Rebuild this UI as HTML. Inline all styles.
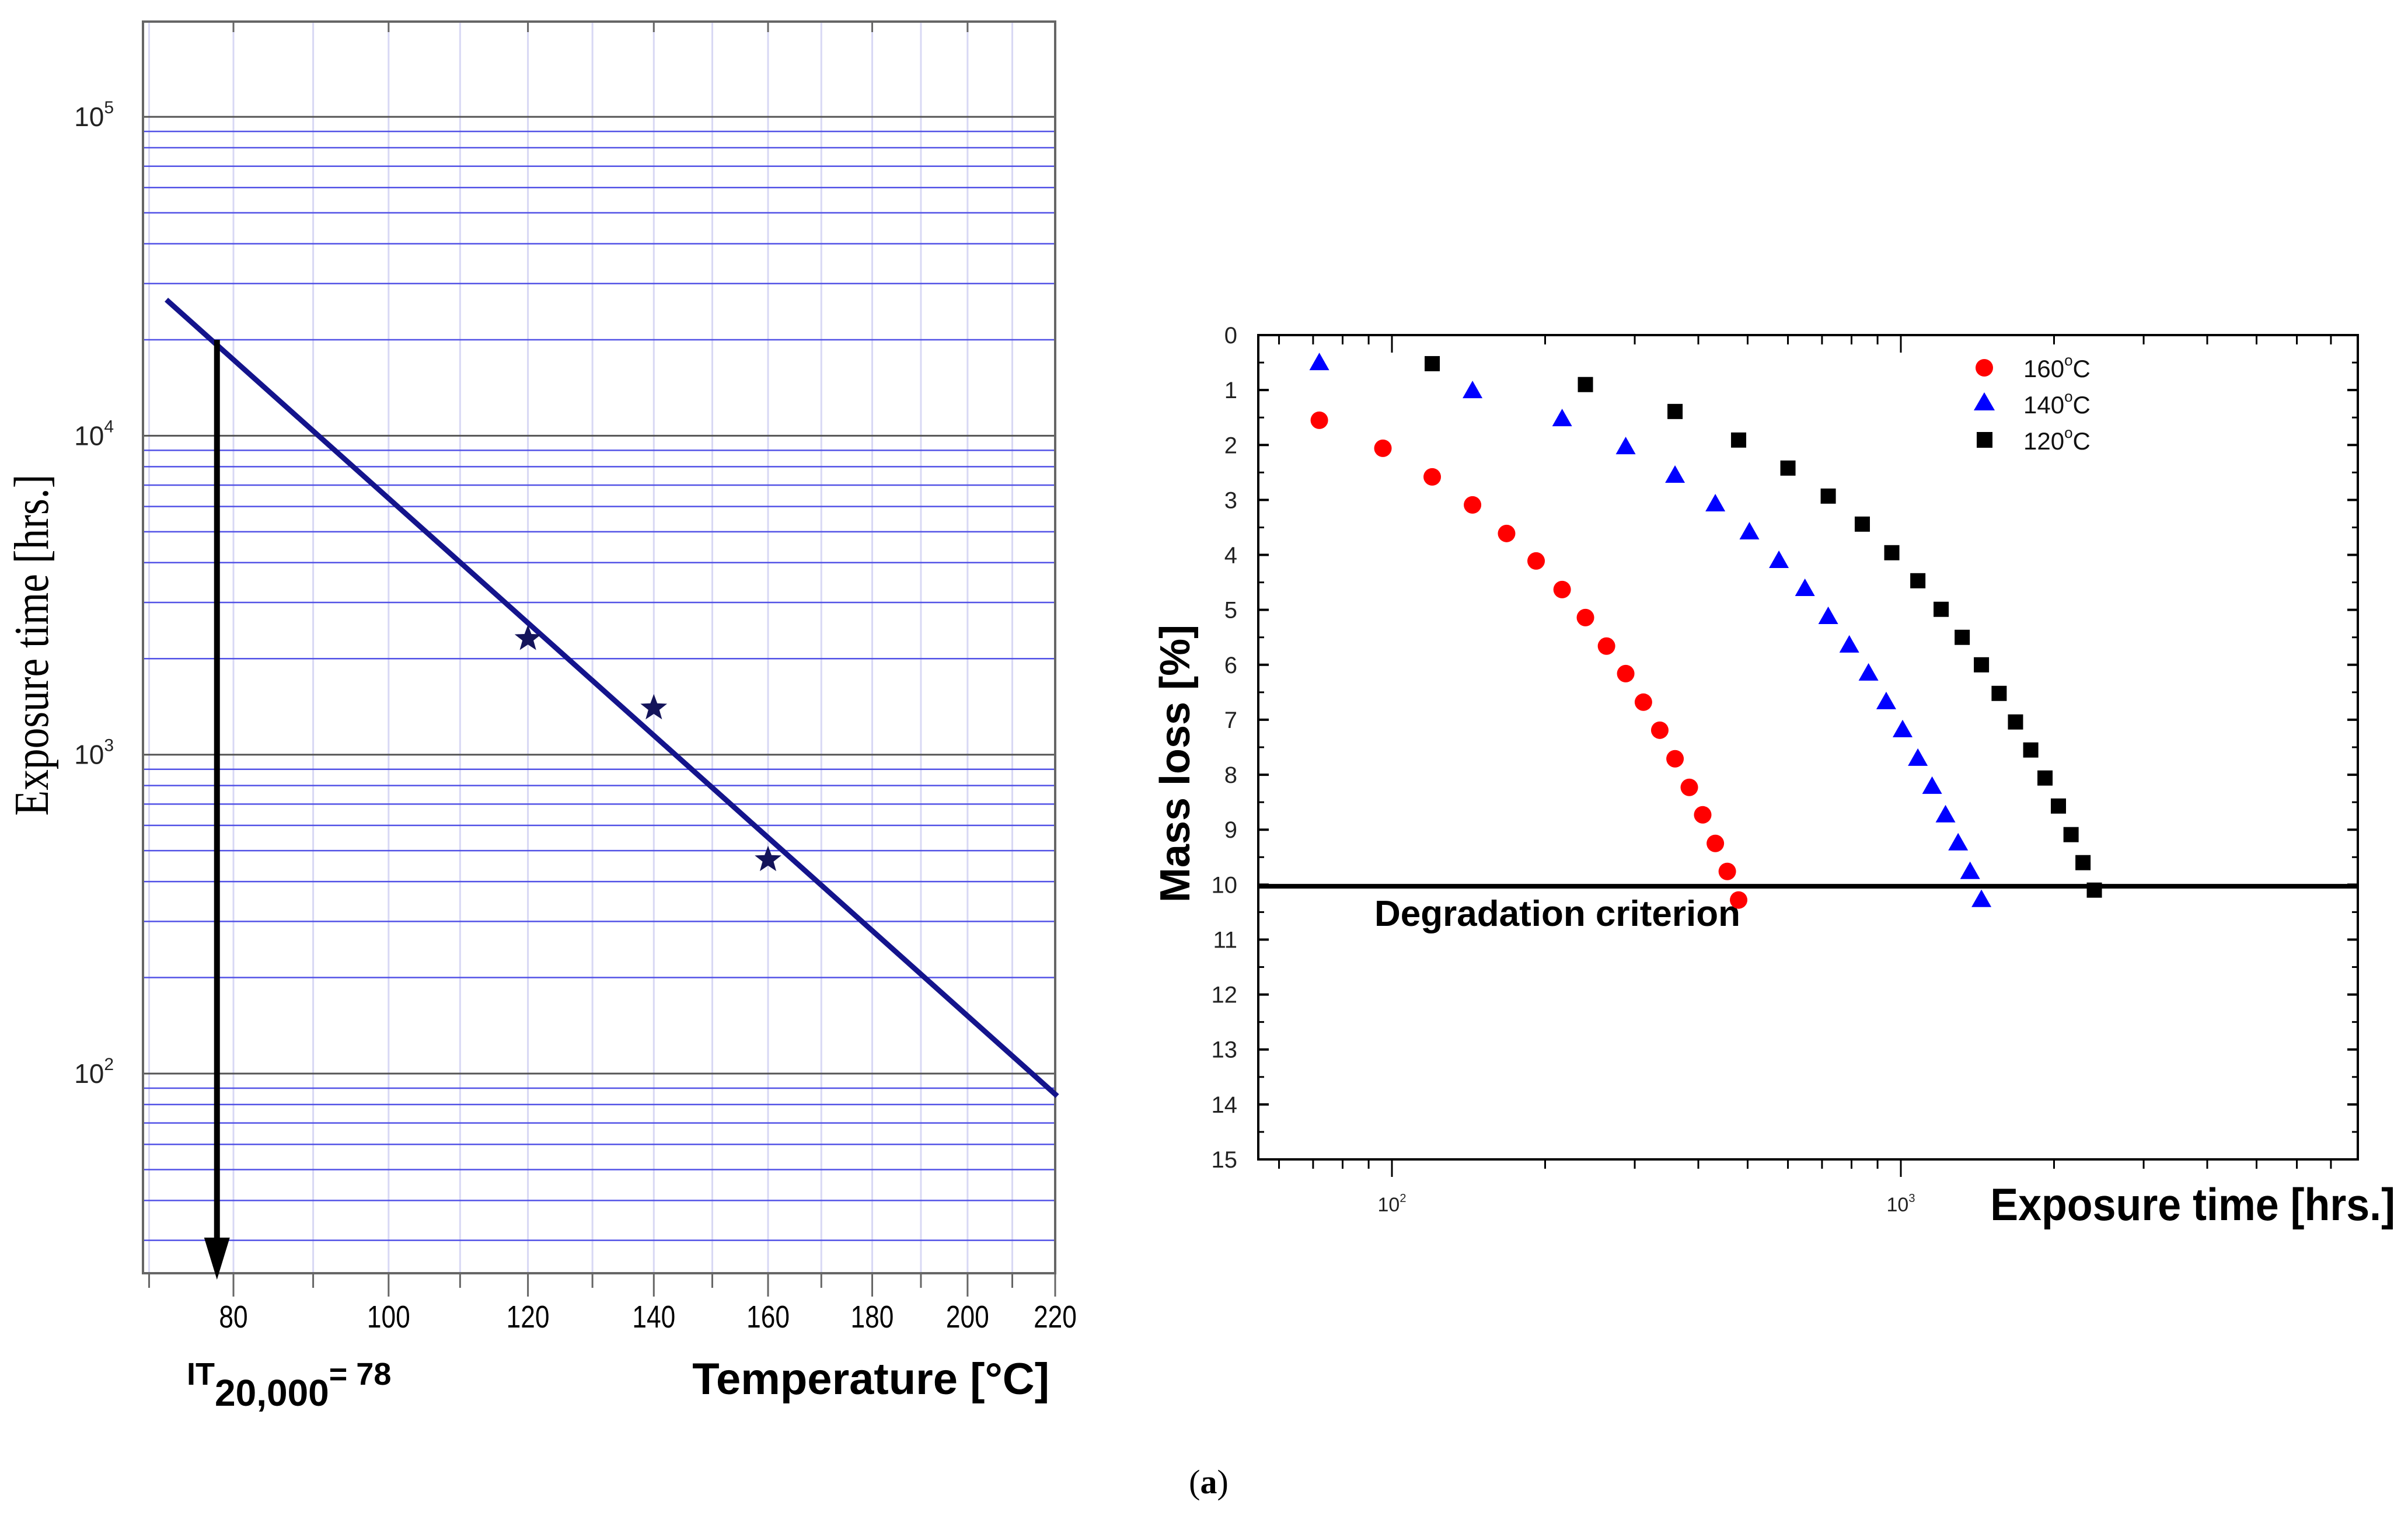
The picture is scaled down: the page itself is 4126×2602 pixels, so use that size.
<!DOCTYPE html>
<html><head><meta charset="utf-8"><style>
html,body{margin:0;padding:0;background:#fff;}
svg{display:block;font-family:"Liberation Sans",sans-serif;}
</style></head><body>
<svg id="fig" width="4126" height="2602" viewBox="0 0 4126 2602" xmlns="http://www.w3.org/2000/svg">
<g id="left"></g>
<g id="right"></g>
<text x="2071" y="2558" font-family="Liberation Serif,serif" font-size="58" text-anchor="middle">(<tspan font-weight="bold">a</tspan>)</text>
</svg>
<script>
// ---------- Left chart data ----------
const lxTicks = [80,100,120,140,160,180,200,220];
const lxMinor = [70,90,110,130,150,170,190,210];
const lyDecades = [2,3,4,5];
const starTemps = [120,140,160];
const starTimes = [2310,1400,468];
const fitTemps = [72,220.5];
const fitTimes = [26700,85];
const itTemp = [78];
const itTime = [20000];

// ---------- Right chart data ----------
const t160 = [72,96,120,144,168,192,216,240,264,288,312,336,360,384,408,432,456,480];
const m160 = [1.55,2.06,2.58,3.09,3.61,4.11,4.63,5.14,5.66,6.16,6.68,7.19,7.71,8.23,8.73,9.25,9.76,10.28];
const t140 = [72,144,216,288,360,432,504,576,648,720,792,864,936,1008,1080,1152,1224,1296,1368,1440];
const m140 = [0.5,1.01,1.52,2.03,2.55,3.07,3.58,4.1,4.61,5.12,5.64,6.15,6.67,7.18,7.7,8.21,8.73,9.24,9.76,10.27];
const t120 = [120,240,360,480,600,720,840,960,1080,1200,1320,1440,1560,1680,1800,1920,2040,2160,2280,2400];
const m120 = [0.52,0.9,1.39,1.91,2.42,2.93,3.44,3.96,4.47,4.99,5.5,6.0,6.52,7.04,7.55,8.06,8.57,9.09,9.6,10.1];
const ryTicks = [0,1,2,3,4,5,6,7,8,9,10,11,12,13,14,15];
const rxDecades = [2,3];
const criterion = [10.03];

const NS = "http://www.w3.org/2000/svg";
function mk(parent, tag, attrs, text){
  const e = document.createElementNS(NS, tag);
  for (const k in attrs) e.setAttribute(k, attrs[k]);
  if (text !== undefined) e.textContent = text;
  parent.appendChild(e);
  return e;
}

// ===== LEFT =====
const L = document.getElementById('left');
const LX0=245, LX1=1808, LY0=37, LY1=2181;
const u80 = 1/(80+273.15), u220 = 1/(220+273.15);
function lx(T){ const u=1/(T+273.15); return 400 + (u80-u)/(u80-u220)*(1808-400); }
function ly(v){ return 1839 - (Math.log10(v)-2)*546.3; }

[...lxMinor, ...lxTicks].forEach(T=>{
  const x=lx(T); if(x<LX0||x>LX1) return;
  const g=mk(L,'line',{x1:x,y1:LY0,x2:x,y2:LY1,stroke:'#d8d8f4','stroke-width':3});
  
  
});
for (let d=1; d<=5; d++){
  for (let k=1;k<=9;k++){
    const v=k*Math.pow(10,d); const y=ly(v);
    if (y<LY0||y>LY1) continue;
    const g=mk(L,'line',{x1:LX0,y1:y,x2:LX1,y2:y,stroke:k===1?'#555':'#5252e6','stroke-width':k===1?3:2.5});
    
    
  }
}
const lf=mk(L,'rect',{x:LX0,y:LY0,width:LX1-LX0,height:LY1-LY0,fill:'none',stroke:'#666','stroke-width':4});


lxTicks.forEach(T=>{
  const x=lx(T);
  const t=mk(L,'line',{x1:x,y1:LY1,x2:x,y2:LY1+40,stroke:'#666','stroke-width':3});
  
  
  mk(L,'line',{x1:x,y1:LY0,x2:x,y2:LY0+18,stroke:'#666','stroke-width':3});
  const lab=mk(L,'text',{x:x,y:2274,'font-size':54,'text-anchor':'middle',transform:`translate(${x} 0) scale(0.82 1) translate(${-x} 0)`},String(T));
  
  
});
lxMinor.forEach(T=>{
  const x=lx(T); if(x<LX0) return;
  const t=mk(L,'line',{x1:x,y1:LY1,x2:x,y2:LY1+25,stroke:'#666','stroke-width':3});
  
  
});
lyDecades.forEach(d=>{
  const y=ly(Math.pow(10,d));
  const lab=mk(L,'text',{x:195,y:y+16,'font-size':46,'text-anchor':'end',fill:'#222'});
  
  
  const a=document.createElementNS(NS,'tspan'); a.textContent='10'; lab.appendChild(a);
  const b=document.createElementNS(NS,'tspan'); b.textContent=String(d); b.setAttribute('font-size','30'); b.setAttribute('dy','-22'); lab.appendChild(b);
});
const fl=mk(L,'line',{x1:lx(fitTemps[0]),y1:ly(fitTimes[0]),x2:lx(fitTemps[1]),y2:ly(fitTimes[1]),stroke:'#14148c','stroke-width':9});


function starPath(cx,cy,R,r){
  let p='';
  for(let i=0;i<10;i++){const rad=i%2?r:R; const a=-Math.PI/2+i*Math.PI/5; p+=(i?'L':'M')+(cx+rad*Math.cos(a)).toFixed(1)+' '+(cy+rad*Math.sin(a)).toFixed(1);}
  return p+'Z';
}
starTemps.forEach((T,i)=>{
  const s=mk(L,'path',{d:starPath(lx(T),ly(starTimes[i]),24,10),fill:'#14145a'});
  
  
});
const ax=lx(itTemp[0]);
const ar=mk(L,'line',{x1:ax,y1:ly(itTime[0]),x2:ax,y2:2140,stroke:'#000','stroke-width':10});


const ah=mk(L,'path',{d:`M${ax-22} 2120 L${ax+22} 2120 L${ax} 2192 Z`,fill:'#000'});


mk(L,'text',{x:0,y:0,'font-family':'Liberation Serif,serif','font-size':84,'text-anchor':'middle',transform:'translate(82 1105) rotate(-90) scale(0.85 1)',},'Exposure time [hrs.]');
const it=mk(L,'text',{x:320,y:2372,'font-size':54,'font-weight':'bold',});
it.innerHTML='<tspan>IT</tspan><tspan dy="36" font-size="64">20,000</tspan><tspan dy="-36">= 78</tspan>';
mk(L,'text',{x:1798,y:2388,'font-size':76,'font-weight':'bold','text-anchor':'end',},'Temperature [°C]');

// ===== RIGHT =====
const R = document.getElementById('right');
const RX0=2156, RX1=4040, RY0=574, RY1=1986;
function rx(v){ return 2385 + (Math.log10(v)-2)*872; }
function ry(m){ return RY0 + m*(RY1-RY0)/15; }
const rf=mk(R,'rect',{x:RX0,y:RY0,width:RX1-RX0,height:RY1-RY0,fill:'none',stroke:'#000','stroke-width':4});


ryTicks.forEach(m=>{
  const y=ry(m);
  mk(R,'line',{x1:RX0,y1:y,x2:RX0+18,y2:y,stroke:'#000','stroke-width':4});
  mk(R,'line',{x1:RX1-18,y1:y,x2:RX1,y2:y,stroke:'#000','stroke-width':4});
  if(m<15){mk(R,'line',{x1:RX0,y1:ry(m+0.5),x2:RX0+10,y2:ry(m+0.5),stroke:'#000','stroke-width':3});
  mk(R,'line',{x1:RX1-10,y1:ry(m+0.5),x2:RX1,y2:ry(m+0.5),stroke:'#000','stroke-width':3});}
  const lab=mk(R,'text',{x:2120,y:y+14,'font-size':40,'text-anchor':'end',fill:'#222'},String(m));
  
  
});
for(let d=1; d<=3; d++){
  for(let k=1;k<=9;k++){
    const v=k*Math.pow(10,d); const x=rx(v);
    if(x<RX0||x>RX1) continue;
    const len=k===1?30:16;
    mk(R,'line',{x1:x,y1:RY1,x2:x,y2:RY1+len,stroke:'#000','stroke-width':3});
    mk(R,'line',{x1:x,y1:RY0,x2:x,y2:RY0+len,stroke:'#000','stroke-width':3});
  }
}
rxDecades.forEach(d=>{
  const x=rx(Math.pow(10,d));
  const lab=mk(R,'text',{x:x,y:2075,'font-size':34,'text-anchor':'middle',fill:'#222'});
  
  
  lab.innerHTML='<tspan>10</tspan><tspan font-size="20" dy="-16">'+d+'</tspan>';
});
const cl=mk(R,'line',{x1:RX0,y1:ry(criterion[0]),x2:RX1,y2:ry(criterion[0]),stroke:'#000','stroke-width':8});


mk(R,'text',{x:2355,y:1586,'font-size':62,'font-weight':'bold',},'Degradation criterion');
t160.forEach((t,i)=>{
  const c=mk(R,'circle',{cx:rx(t),cy:ry(m160[i]),r:15,fill:'#ff0000'});
  
  
});
t140.forEach((t,i)=>{
  const x=rx(t), y=ry(m140[i]);
  const p=mk(R,'path',{d:`M${x} ${y-17} L${x+17} ${y+13} L${x-17} ${y+13} Z`,fill:'#0000ff'});
  
  
});
t120.forEach((t,i)=>{
  const x=rx(t), y=ry(m120[i]);
  const s=mk(R,'rect',{x:x-13,y:y-13,width:26,height:26,fill:'#000'});
  
  
});
const leg=mk(R,'g',{});


mk(leg,'circle',{cx:3400,cy:630,r:15,fill:'#ff0000'});
mk(leg,'path',{d:'M3400 672 L3418 703 L3382 703 Z',fill:'#0000ff'});
mk(leg,'rect',{x:3387,y:740,width:27,height:27,fill:'#000'});
[['160',646],['140',708],['120',770]].forEach(a=>{
  const t=mk(leg,'text',{x:3467,y:a[1],'font-size':42,fill:'#111'});
  
  
  t.innerHTML=a[0]+'<tspan font-size="26" dy="-20">o</tspan><tspan dy="20">C</tspan>';
});
mk(R,'text',{x:0,y:0,'font-size':72,'font-weight':'bold','text-anchor':'middle',transform:'translate(2038 1308) rotate(-90)',},'Mass loss [%]');
mk(R,'text',{x:4104,y:2090,'font-size':78,'font-weight':'bold','text-anchor':'end',transform:'translate(4104 0) scale(0.92 1) translate(-4104 0)'},'Exposure time [hrs.]');
</script>
</body></html>
